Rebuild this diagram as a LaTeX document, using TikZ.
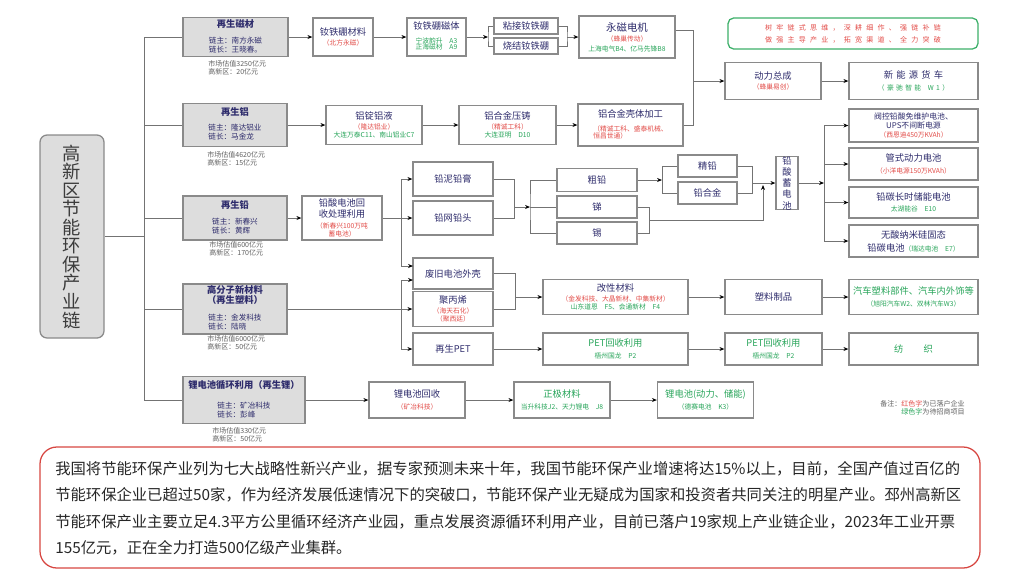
\documentclass[tikz,border=0pt]{standalone}
\usepackage{fontspec}
\setmainfont{Noto Sans CJK SC}
\newfontfamily\widecjk[LetterSpace=35]{Noto Sans CJK SC}
\newfontfamily\spacedcjk[LetterSpace=60]{Noto Sans CJK SC}
\usetikzlibrary{arrows.meta}

\definecolor{navytxt}{RGB}{46,44,108}
\definecolor{redtxt}{RGB}{226,76,72}
\definecolor{grntxt}{RGB}{40,165,90}
\definecolor{boxline}{RGB}{138,138,138}
\definecolor{grayfill}{RGB}{221,221,221}
\definecolor{conline}{RGB}{115,115,115}
\definecolor{mkttxt}{RGB}{95,95,95}
\definecolor{lefttxt}{RGB}{60,60,60}
\definecolor{grnline}{RGB}{60,175,105}
\definecolor{redline}{RGB}{215,70,65}

\newcommand{\redln}[1]{{\color{redtxt}\fontsize{4.8}{5.6}\selectfont #1}}
\newcommand{\grnln}[1]{{\color{grntxt}\fontsize{4.8}{5.6}\selectfont #1}}
\newcommand{\chainlines}[2]{{\fontsize{5.4}{6}\selectfont\begin{tabular}[t]{@{}l@{}}链主：#1\\链长：#2\end{tabular}}}

\tikzset{
  conn/.style={draw=conline, line width=0.6pt},
  arr/.style={conn, -{Stealth[length=3.5pt,width=2.8pt,color=black]}},
  whitebox/.style 2 args={draw=boxline, line width=0.9pt, fill=white,
    minimum width=#1*0.025cm, minimum height=#2*0.025cm, inner sep=0pt,
    align=center, text=navytxt, font=\fontsize{6.6}{7.2}\selectfont},
  graybox/.style 2 args={whitebox={#1}{#2}, fill=grayfill},
  mkt/.style={text=mkttxt, font=\fontsize{5}{6}\selectfont, align=left,
    inner sep=0pt, anchor=north west},
}

\begin{document}
\begin{tikzpicture}[x=0.025cm, y=-0.025cm]
\useasboundingbox (0,0) rectangle (1018,575);

% Titel links
\node[draw=boxline, line width=0.9pt, fill=grayfill, rounded corners=5pt,
  minimum width=64*0.025cm, minimum height=203*0.025cm, inner sep=0pt,
  align=center, text=lefttxt, font=\fontsize{13}{13.2}\selectfont]
  (L) at (72,236.5) {高\\新\\区\\节\\能\\环\\保\\产\\业\\链};

% Ketens
\node[graybox={105}{39}] (g1) at (235.5,37) {\textbf{再生磁材}\\[4pt]\chainlines{南方永磁}{王晓春。}};
\node[graybox={104}{43}] (g2) at (235,125) {\textbf{再生铝}\\[3.5pt]\chainlines{隆达铝业}{马金龙}};
\node[graybox={104}{44}] (g3) at (235,218) {\textbf{再生铅}\\[4pt]\chainlines{新春兴}{黄辉}};
\node[graybox={104}{50}] (g4) at (235,309) {\textbf{高分子新材料}\\\textbf{（再生塑料）}\\[5pt]\chainlines{金发科技}{陆晓}};
\node[graybox={122}{47}] (g5) at (244,400) {\textbf{锂电池循环利用（再生锂）}\\[7pt]\chainlines{矿冶科技}{彭峰}};

\node[mkt] (m1) at (208,60) {市场估值3250亿元\\高新区：20亿元};
\node[mkt] (m2) at (207,151) {市场估值4620亿元\\高新区：15亿元};
\node[mkt] (m3) at (209,241) {市场估值600亿元\\高新区：170亿元};
\node[mkt] (m4) at (207,335) {市场估值6000亿元\\高新区：50亿元};
\node[mkt] (m5) at (212,427) {市场估值330亿元\\高新区：50亿元};

% Stam
\coordinate (tkT) at (144,37);
\coordinate (tkB) at (144,400);
\draw[conn] (tkT) -- (tkB);
\draw[conn] (L.east) -- (L.east -| tkT);
\foreach \g in {g1,g2,g3,g4,g5}
  \draw[conn] (\g.west -| tkT) -- (\g.west);

% Magneten
\node[whitebox={60}{38}] (a1) at (343,37) {钕铁硼材料\\\redln{（北方永磁）}};
\node[whitebox={59}{38}] (a2) at (436.5,37) {钕铁硼磁体\\[3pt]\grnln{\begin{tabular}[t]{@{}l@{\quad}l@{}}宁波韵升&A3\\[-1.5pt]正海磁材&A9\end{tabular}}};
\node[whitebox={64}{16}] (a3) at (526,26) {粘接钕铁硼};
\node[whitebox={64}{16}] (a4) at (526,46) {烧结钕铁硼};
\node[whitebox={96}{42}, font=\fontsize{7.4}{7.6}\selectfont] (a5) at (627,37) {永磁电机\\\redln{（蜂巢传动）}\\[-1pt]\grnln{上海电气B4、亿马先锋B8}};

\coordinate (fk1) at (488,37);
\coordinate (mg1) at (567,37);
\draw[arr] (g1.east) -- (a1.west);
\draw[arr] (a1) -- (a2);
\draw[arr] (a2.east) -- (fk1);
\draw[conn] (a3.west) -| (fk1) |- (a4.west);
\draw[conn] (a3.east) -| (mg1) |- (a4.east);
\draw[arr] (mg1) -- (a5.west);

% Slogan
\node[draw=grnline, line width=0.9pt, rounded corners=4pt,
  minimum width=250*0.025cm, minimum height=31*0.025cm, inner sep=0pt,
  align=center, text=redtxt, font=\spacedcjk\fontsize{5}{8.5}\selectfont]
  (s) at (853,33.5) {树牢链式思维，深耕细作、强链补链\\做强主导产业，拓宽渠道、全力突破};

% Aandrijving
\node[whitebox={96}{37}] (c1) at (773,81) {动力总成\\\redln{（蜂巢易创）}};
\node[whitebox={129}{37}] (c2) at (913.5,81) {{\widecjk 新能源货车}\\[1pt]\grnln{\widecjk（豪驰智能\quad W1）}};

% Aluminium
\node[whitebox={96}{39}] (b1) at (374,125) {铝锭铝液\\\redln{（隆达铝业）}\\[-1.5pt]\grnln{大连万泰C11、南山铝业C7}};
\node[whitebox={97}{39}] (b2) at (507.5,125) {铝合金压铸\\\redln{（精诚工科）}\\[-1.5pt]\grnln{大连亚明\quad D10}};
\node[whitebox={105}{42}] (b3) at (630.5,125) {铝合金壳体加工\\[3pt]\redln{\begin{tabular}[t]{@{}l@{}}（精诚工科、盛泰机械、\\[-1pt]恒昌世通）\end{tabular}}};

\foreach \a/\b in {g2/b1, b1/b2, b2/b3, c1/c2}
  \draw[arr] (\a) -- (\b);

\coordinate (j1) at (693,81);
\draw[conn] ([yshift=0.175cm]a5.east) -| (j1);
\draw[conn] (b3.east) -| (j1);
\draw[arr] (j1) -- (c1.west);

% Lood
\node[whitebox={80}{44}] (r1) at (342,218) {铅酸电池回\\[1pt]收处理利用\\\redln{（新春兴100万吨}\\[-1pt]\redln{蓄电池）}};
\node[whitebox={80}{34}] (p1) at (453,179) {铅泥铅膏};
\node[whitebox={80}{34}] (p2) at (453,218) {铅网铅头};
\node[whitebox={80}{23}] (q1) at (597,180) {粗铅};
\node[whitebox={80}{22}] (q2) at (597,207) {锑};
\node[whitebox={80}{22}] (q3) at (597,233) {锡};
\node[whitebox={59}{22}] (k1) at (707.5,166) {精铅};
\node[whitebox={59}{22}] (k2) at (707.5,193) {铅合金};
\node[whitebox={22}{51}, font=\fontsize{6.6}{8}\selectfont] (v) at (787,183) {铅\\酸\\蓄\\电\\池};

\node[whitebox={129}{33}, font=\fontsize{5.6}{6.6}\selectfont] (d1) at (913.5,125.5) {阀控铅酸免维护电池、\\UPS不间断电源\\\redln{（西恩迪450万KVAh）}};
\node[whitebox={129}{32}] (d2) at (913.5,164) {管式动力电池\\[1pt]\redln{（小洋电源150万KVAh）}};
\node[whitebox={129}{31}] (d3) at (913.5,202.5) {铅碳长时储能电池\\[1pt]\grnln{太湖能谷\quad E10}};
\node[whitebox={129}{32}] (d4) at (913.5,241) {无酸纳米硅固态\\[2pt]铅碳电池\grnln{（瑞达电池\quad E7）}};

\coordinate (tp) at (401,0);
\draw[arr] (g3.east) -- (r1.west);
\draw[arr] (r1.east) -- (p2.west);
\draw[conn] (p1.west -| tp) -- (401,266);
\draw[arr] (p1.west -| tp) -- (p1.west);

\coordinate (mg2) at (514,207);
\coordinate (fk2) at (530,207);
\draw[conn] (p1.east) -| (mg2);
\draw[conn] (p2.east) -| (mg2);
\draw[arr] (mg2) -- (fk2);
\draw[conn] (q1.west) -| (fk2) |- (q3.west);
\draw[conn] (fk2) -- (q2.west);

\coordinate (fk3) at (662,180);
\coordinate (mg3) at (752,183);
\draw[arr] (q1.east) -- (fk3);
\draw[conn] (k1.west) -| (fk3) |- (k2.west);
\draw[conn] (k1.east) -| (mg3);
\draw[conn] (k2.east) -| (mg3);
\draw[arr] (mg3) -- (v.west);

\coordinate (mg4) at (649,220);
\coordinate (up1) at (763,185);
\draw[conn] (q2.east) -| (mg4);
\draw[conn] (q3.east) -| (mg4);
\draw[arr] (mg4) -| (up1);

\coordinate (tk3) at (824,183);
\draw[arr] (v.east) -- (tk3);
\draw[conn] (d1.west -| tk3) -- (d4.west -| tk3);
\foreach \d in {d1,d2,d3,d4}
  \draw[arr] (\d.west -| tk3) -- (\d.west);

% Kunststof
\node[whitebox={80}{31}] (p3) at (453,273.5) {废旧电池外壳};
\node[whitebox={80}{35}] (p4) at (453,309) {聚丙烯\\\redln{（海天石化）}\\[-1.5pt]\redln{（聚西廷）}};
\node[whitebox={80}{32}] (p5) at (453,349) {再生PET};
\node[whitebox={145}{35}] (e1) at (615.5,297) {改性材料\\\redln{（金发科技、大晶新材、中集新材）}\\[-1.5pt]\grnln{山东道恩\quad F5、会通新材\quad F4}};
\node[whitebox={97}{35}] (e2) at (773.5,297) {塑料制品};
\node[whitebox={129}{35}, text=grntxt] (e3) at (913.5,297) {汽车塑料部件、汽车内外饰等\\[1pt]\grnln{（旭阳汽车W2、双林汽车W3）}};
\node[whitebox={145}{32}, text=grntxt] (f1) at (615.5,349) {PET回收利用\\[1pt]\grnln{梧州国龙\quad P2}};
\node[whitebox={97}{32}, text=grntxt] (f2) at (773.5,349) {PET回收利用\\[1pt]\grnln{梧州国龙\quad P2}};
\node[whitebox={129}{32}, text=grntxt] (f3) at (913.5,349) {纺\hspace{2.2em}织};

\draw[arr] (401,266) -- (413,266);
\draw[conn] (401,280) -- (p5.west -| tp);
\draw[arr] (401,280) -- (413,280);
\draw[arr] (g4.east) -- (p4.west);
\draw[arr] (p5.west -| tp) -- (p5.west);

\coordinate (mg5) at (515,297);
\draw[conn] (p3.east) -| (mg5);
\draw[conn] (p4.east) -| (mg5);
\draw[arr] (mg5) -- (e1.west);
\foreach \a/\b in {e1/e2, e2/e3, p5/f1, f1/f2, f2/f3}
  \draw[arr] (\a) -- (\b);

% Lithium
\node[whitebox={96}{36}] (h1) at (417,400) {锂电池回收\\[1pt]\redln{（矿冶科技）}};
\node[whitebox={96}{36}, text=grntxt] (h2) at (562,400) {正极材料\\[1pt]\grnln{当升科技J2、天力锂电\quad J8}};
\node[whitebox={96}{36}, text=grntxt] (h3) at (705.5,400) {锂电池(动力、储能)\\[1pt]\grnln{（德赛电池\quad K3）}};
\foreach \a/\b in {g5/h1, h1/h2, h2/h3}
  \draw[arr] (\a) -- (\b);

% Legenda
\node[mkt] (lg) at (880,400) {备注：{\color{redtxt}红色字}为已落户企业\\\phantom{备注：}{\color{grntxt}绿色字}为待招商项目};

% Toelichting
\node[draw=redline, line width=0.9pt, rounded corners=12pt,
  minimum width=940*0.025cm, minimum height=121*0.025cm] (note) at (510,507.5) {};
\node[anchor=north west, align=left, inner sep=0pt, text=black!85,
  font=\fontsize{10.9}{18.8}\selectfont] (notetxt) at (55,461)
  {我国将节能环保产业列为七大战略性新兴产业，据专家预测未来十年，我国节能环保产业增速将达15\%以上，目前，全国产值过百亿的\\
   节能环保企业已超过50家，作为经济发展低速情况下的突破口，节能环保产业无疑成为国家和投资者共同关注的明星产业。邳州高新区\\
   节能环保产业主要立足4.3平方公里循环经济产业园，重点发展资源循环利用产业，目前已落户19家规上产业链企业，2023年工业开票\\
   155亿元，正在全力打造500亿级产业集群。};

\end{tikzpicture}
\end{document}
